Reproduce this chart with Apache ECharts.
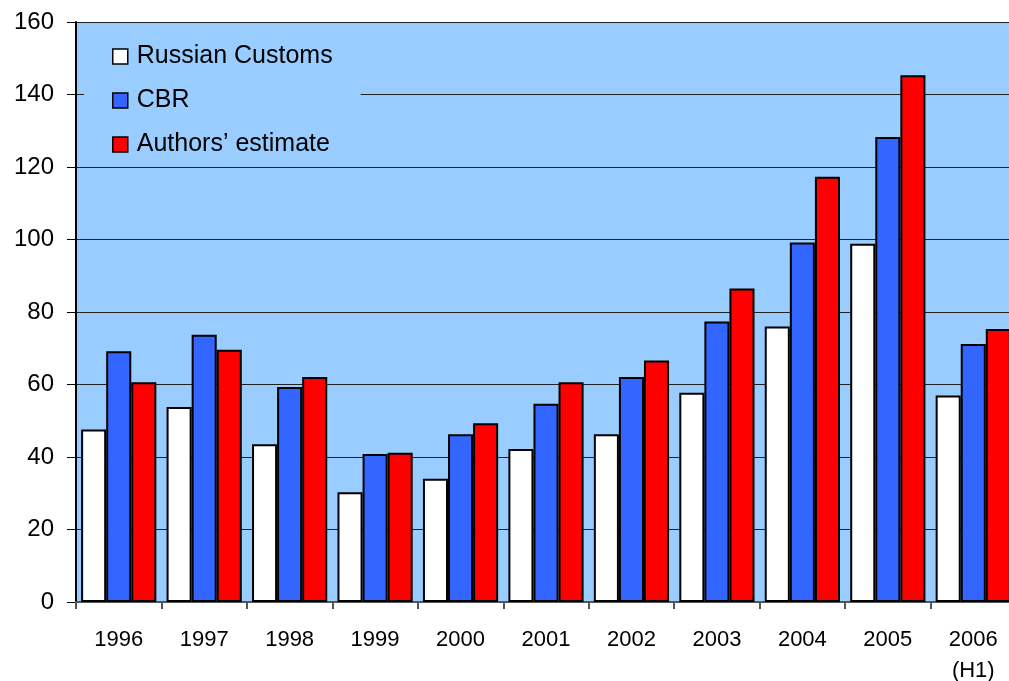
<!DOCTYPE html>
<html>
<head>
<meta charset="utf-8">
<script src="https://cdn.jsdelivr.net/npm/echarts@6/dist/echarts.min.js"></script>
<style>html,body{margin:0;padding:0;background:#fff;}#c{width:1009px;height:681px;}</style>
</head>
<body>
<div id="c"></div>
<script>
const categories = ['1996','1997','1998','1999','2000','2001','2002','2003','2004','2005','2006\n(H1)'];
const russianCustoms = [47.6, 53.8, 43.5, 30.3, 34.0, 42.2, 46.3, 57.7, 76.0, 98.8, 57.0];
const cbr = [69.2, 73.7, 59.3, 40.8, 46.3, 54.7, 62.1, 77.4, 99.2, 128.3, 71.2];
const authorsEstimate = [60.6, 69.6, 62.1, 41.2, 49.3, 60.6, 66.6, 86.5, 117.3, 145.3, 75.3];
const yTicks = {min: 0, max: 160, interval: 20};

const font = 'Liberation Sans, Arial, sans-serif';
const chart = echarts.init(document.getElementById('c'), null, {renderer: 'canvas'});
const mk = (name, data, color) => ({
  name, type: 'bar', data, barGap: '0%', barCategoryGap: '12%',
  itemStyle: {color, borderColor: '#000', borderWidth: 2},
  emphasis: {disabled: true}
});
chart.setOption({
  animation: false,
  textStyle: {fontFamily: font},
  grid: {left: 76, top: 22, bottom: 79, width: 940, outerBoundsMode: 'none', containLabel: false,
         backgroundColor: '#99ccff', show: true, borderWidth: 0},
  legend: {
    orient: 'vertical', left: 84, top: 28,
    padding: [16, 28, 6, 28],
    backgroundColor: '#99ccff',
    icon: 'rect',
    itemWidth: 15, itemHeight: 15, itemGap: 19,
    textStyle: {fontSize: 25, color: '#000', fontFamily: font, padding: [0, 0, 0, 4]},
    itemStyle: {borderColor: '#000', borderWidth: 1.5},
    data: ['Russian Customs', 'CBR', "Authors\u2019 estimate"]
  },
  xAxis: {
    type: 'category', data: categories,
    axisLine: {lineStyle: {color: '#555', width: 2}},
    axisTick: {show: true, alignWithLabel: false, length: 7, lineStyle: {color: '#555', width: 2}},
    axisLabel: {fontSize: 22, color: '#000', margin: 22, lineHeight: 31, fontFamily: font}
  },
  yAxis: {
    type: 'value', min: yTicks.min, max: yTicks.max, interval: yTicks.interval,
    axisLine: {show: true, lineStyle: {color: '#000', width: 2}},
    axisTick: {show: true, length: 9, lineStyle: {color: '#000', width: 1}},
    axisLabel: {fontSize: 24, color: '#000', margin: 22, fontFamily: font},
    splitLine: {show: true, lineStyle: {color: '#222', width: 1}}
  },
  series: [
    mk('Russian Customs', russianCustoms, '#ffffff'),
    mk('CBR', cbr, '#3366ff'),
    mk("Authors\u2019 estimate", authorsEstimate, '#ff0000')
  ]
});
</script>
</body>
</html>
